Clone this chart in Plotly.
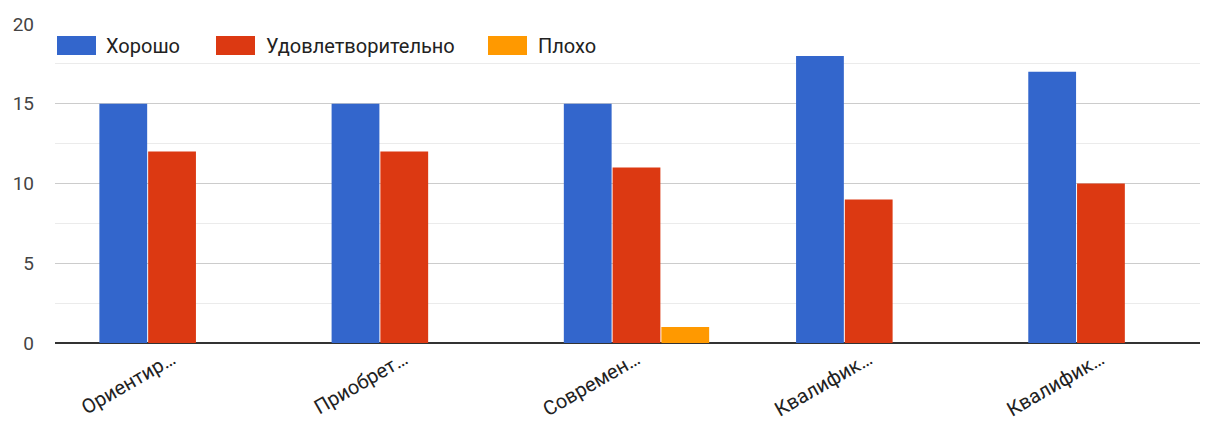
import plotly.graph_objects as go

categories = ["Ориентир…", "Приобрет…", "Современ…", "Квалифик…", "Квалифик…"]
series_names = ["Хорошо", "Удовлетворительно", "Плохо"]
good = [15, 15, 15, 18, 17]
satisfactory = [12, 12, 11, 9, 10]
bad = [0, 0, 1, 0, 0]
colors = ["#3366cc", "#dc3912", "#ff9900"]
y_ticks = [0, 5, 10, 15, 20]

x_idx = list(range(len(categories)))

# page has an 8px body margin, so the figure is made 8px smaller
W, H = 1200, 413
ML, MR, MT, MB = 47, 0, 16, 78
# plot area in screenshot pixels
PX0, PX1, PY0, PY1 = 55, 1208, 24, 343

fig = go.Figure()
for name, vals, col in zip(series_names, [good, satisfactory, bad], colors):
    fig.add_trace(go.Bar(
        x=x_idx, y=vals, name=name,
        marker=dict(color=col, line=dict(width=0)),
        showlegend=False,
    ))

def px_x(p):
    return (p - PX0) / (PX1 - PX0)

def px_y(p):
    return (PY1 - p) / (PY1 - PY0)

legend_pos = [(57, 106), (216, 266), (488, 538)]
shapes = []
annotations = []
for (rx, tx), name, col in zip(legend_pos, series_names, colors):
    shapes.append(dict(
        type="rect", xref="paper", yref="paper",
        x0=px_x(rx), x1=px_x(rx + 39), y0=px_y(55), y1=px_y(36),
        fillcolor=col, line=dict(width=0), layer="above",
    ))
    annotations.append(dict(
        xref="paper", yref="paper", x=px_x(tx - 2), y=px_y(46),
        xanchor="left", yanchor="middle", text=name, showarrow=False,
        font=dict(size=20, color="#222222"),
    ))

fig.update_layout(
    width=W, height=H,
    margin=dict(l=ML, r=MR, t=MT, b=MB),
    paper_bgcolor="white", plot_bgcolor="white",
    barmode="group", bargap=0.37, bargroupgap=0.02,
    font=dict(family="Roboto, Arial, sans-serif", size=19, color="#444444"),
    showlegend=False,
    shapes=shapes, annotations=annotations,
)
fig.update_xaxes(
    tickmode="array", tickvals=x_idx, ticktext=categories,
    tickangle=-30, showgrid=False, showline=False, zeroline=False,
    tickfont=dict(size=20, color="#222222"), ticks="",
    range=[-0.504, 4.461], automargin=False,
)
fig.update_yaxes(
    range=[0, 20], tickmode="array", tickvals=y_ticks,
    showgrid=True, gridcolor="#cccccc", gridwidth=1,
    minor=dict(dtick=2.5, showgrid=True, gridcolor="#ebebeb", gridwidth=1),
    zeroline=True, zerolinecolor="#333333", zerolinewidth=2,
    tickfont=dict(size=19, color="#444444"), ticks="", ticklabelstandoff=20,
    automargin=False,
)

fig.write_html("out.html")
